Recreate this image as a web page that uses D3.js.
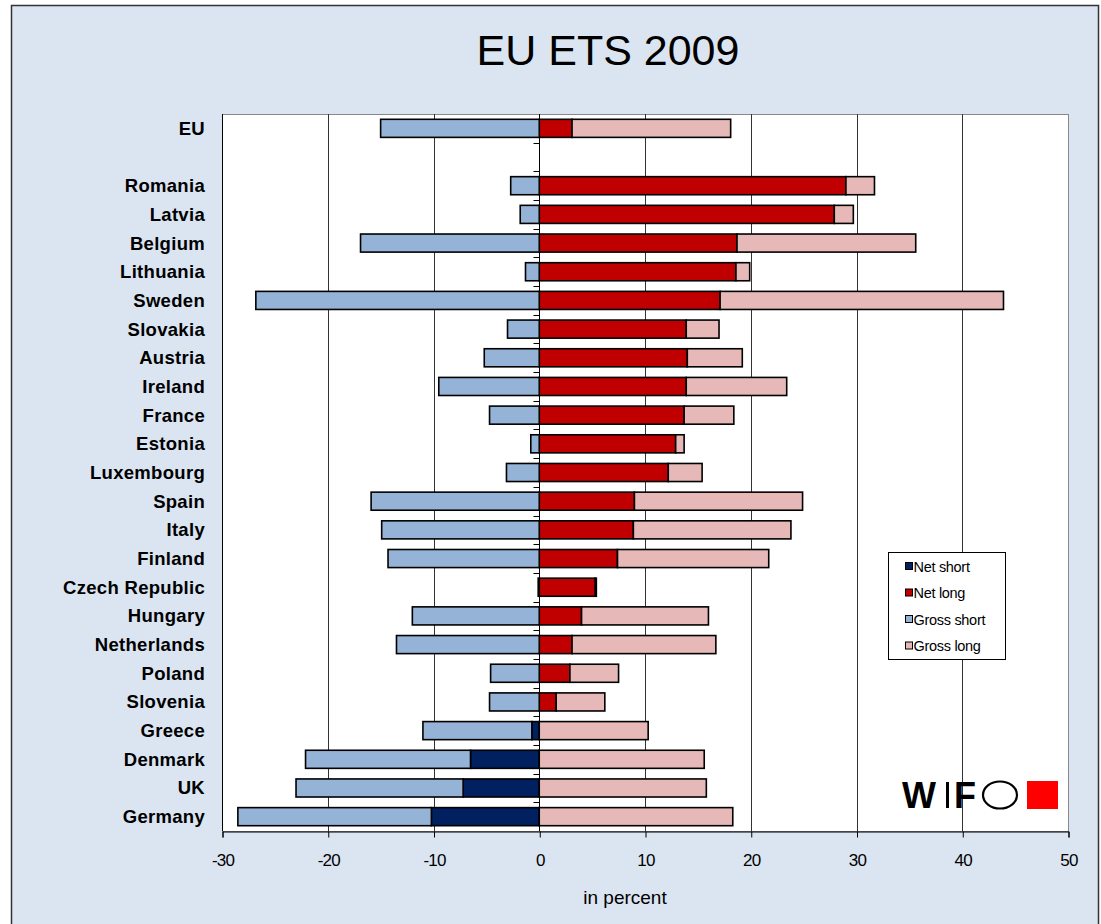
<!DOCTYPE html>
<html>
<head>
<meta charset="utf-8">
<script src="https://cdn.jsdelivr.net/npm/d3@7"></script>
<style>
  body { margin: 0; background: #ffffff; }
  svg { display: block; font-family: "Liberation Sans", Arial, sans-serif; }
</style>
</head>
<body>
<svg id="chart" width="1101" height="924"></svg>
<script>
// Allowance position per country, % of verified emissions (stacked segments)
const countries = ["EU", "", "Romania", "Latvia", "Belgium", "Lithuania", "Sweden", "Slovakia",
  "Austria", "Ireland", "France", "Estonia", "Luxembourg", "Spain", "Italy", "Finland",
  "Czech Republic", "Hungary", "Netherlands", "Poland", "Slovenia", "Greece", "Denmark", "UK", "Germany"];
const netShort   = [0, 0, 0, 0, 0, 0, 0, 0, 0, 0, 0, 0, 0, 0, 0, 0, 0, 0, 0, 0, 0, -0.7, -6.5, -7.2, -10.2];
const netLong    = [3.1, 0, 29.0, 27.9, 18.7, 18.6, 17.1, 13.9, 14.0, 13.9, 13.7, 12.9, 12.2, 9.0, 8.9, 7.4, 5.3, 4.0, 3.1, 2.9, 1.6, 0, 0, 0, 0];
const grossShort = [-15.0, 0, -2.7, -1.8, -16.9, -1.3, -26.8, -3.0, -5.2, -9.5, -4.7, -0.8, -3.1, -15.9, -14.9, -14.3, -0.1, -12.0, -13.5, -4.6, -4.7, -10.3, -15.6, -15.8, -18.3];
const grossLong  = [15.0, 0, 2.7, 1.8, 16.9, 1.3, 26.8, 3.1, 5.2, 9.5, 4.7, 0.8, 3.2, 15.9, 14.9, 14.3, 0.1, 12.0, 13.6, 4.6, 4.6, 10.3, 15.6, 15.8, 18.3];
const seriesNames = ["Net short", "Net long", "Gross short", "Gross long"];
const xTicks = [-30, -20, -10, 0, 10, 20, 30, 40, 50];

const colors = {
  "Net short": "#002060",
  "Net long": "#C00000",
  "Gross short": "#95B3D7",
  "Gross long": "#E6B9B8"
};

const rows = countries.map((c, i) => ({
  country: c,
  "Net short": netShort[i],
  "Net long": netLong[i],
  "Gross short": grossShort[i],
  "Gross long": grossLong[i]
}));

const svg = d3.select("#chart");

// outer frame
svg.append("rect")
  .attr("x", 11.5).attr("y", 5.5).attr("width", 1087).attr("height", 940)
  .attr("fill", "#DBE5F1").attr("stroke", "#333").attr("stroke-width", 1.5);

// title
svg.append("text")
  .attr("x", 608).attr("y", 65)
  .attr("text-anchor", "middle")
  .attr("font-size", 43)
  .attr("fill", "#000")
  .text("EU ETS 2009");

const plot = { left: 222, right: 1068, top: 114, bottom: 831 };

const x = d3.scaleLinear().domain([-30, 50]).range([plot.left, plot.right]);
const y = d3.scaleBand().domain(countries).range([plot.top, plot.bottom])
  .paddingInner(0.37).paddingOuter(0.185);

// plot background
svg.append("rect")
  .attr("x", plot.left + 0.5).attr("y", plot.top + 0.5)
  .attr("width", plot.right - plot.left).attr("height", plot.bottom - plot.top)
  .attr("fill", "#fff").attr("stroke", "#888").attr("stroke-width", 1);

// vertical gridlines
svg.append("g")
  .selectAll("line")
  .data(xTicks.filter(t => t !== 0 && t !== 50))
  .join("line")
  .attr("x1", d => Math.round(x(d)) + 0.5).attr("x2", d => Math.round(x(d)) + 0.5)
  .attr("y1", plot.top).attr("y2", plot.bottom)
  .attr("stroke", d => d === -30 ? "#000" : "#333").attr("stroke-width", 1);

// stacked bars
const stack = d3.stack().keys(seriesNames).offset(d3.stackOffsetDiverging);
const layers = stack(rows);

svg.append("g")
  .selectAll("g")
  .data(layers)
  .join("g")
  .attr("fill", d => colors[d.key])
  .selectAll("rect")
  .data(d => d.filter(s => s[1] - s[0] !== 0))
  .join("rect")
  .attr("x", d => x(Math.min(d[0], d[1])))
  .attr("width", d => Math.abs(x(d[1]) - x(d[0])))
  .attr("y", d => y(d.data.country))
  .attr("height", y.bandwidth())
  .attr("stroke", "#000")
  .attr("stroke-width", 1.6);

// category axis at zero with boundary ticks
const x0 = Math.round(x(0)) + 0.5;
svg.append("line")
  .attr("x1", x0).attr("x2", x0)
  .attr("y1", plot.top).attr("y2", plot.bottom)
  .attr("stroke", "#000").attr("stroke-width", 1);
const step = y.step();
svg.append("g")
  .selectAll("line")
  .data(d3.range(1, countries.length))
  .join("line")
  .attr("x1", x0 - 6).attr("x2", x0)
  .attr("y1", i => Math.round(plot.top + i * step) + 0.5)
  .attr("y2", i => Math.round(plot.top + i * step) + 0.5)
  .attr("stroke", "#000").attr("stroke-width", 1);

// category labels
svg.append("g")
  .selectAll("text")
  .data(countries)
  .join("text")
  .attr("x", 205)
  .attr("y", d => y(d) + y.bandwidth() / 2)
  .attr("dy", "0.35em")
  .attr("text-anchor", "end")
  .attr("font-size", 18.5)
  .attr("letter-spacing", 0.3)
  .attr("font-weight", "bold")
  .attr("fill", "#000")
  .text(d => d);

// value axis
const xAxis = d3.axisBottom(x).tickValues(xTicks).tickSize(6).tickPadding(16).tickFormat(d => String(d));
const gx = svg.append("g")
  .attr("transform", `translate(0.5,${plot.bottom + 0.5})`)
  .call(xAxis);
gx.select(".domain").attr("stroke", "#000").attr("stroke-width", 1);
gx.selectAll(".tick line").attr("stroke", "#000");
gx.selectAll(".tick text")
  .attr("font-size", 17)
  .attr("font-family", "'Liberation Sans', Arial, sans-serif")
  .attr("letter-spacing", -0.8)
  .attr("fill", "#000");

svg.append("text")
  .attr("x", 625).attr("y", 904)
  .attr("text-anchor", "middle")
  .attr("font-size", 19)
  .attr("fill", "#000")
  .text("in percent");

// legend
const legend = svg.append("g").attr("transform", "translate(888.5,552.5)");
legend.append("rect")
  .attr("width", 117).attr("height", 107)
  .attr("fill", "#fff").attr("stroke", "#000").attr("stroke-width", 1);
const item = legend.selectAll("g.item")
  .data(seriesNames)
  .join("g")
  .attr("class", "item")
  .attr("transform", (d, i) => `translate(0,${14 + i * 26.5})`);
item.append("rect")
  .attr("x", 17).attr("y", -4).attr("width", 7).attr("height", 7)
  .attr("fill", d => colors[d]).attr("stroke", "#000").attr("stroke-width", 1);
item.append("text")
  .attr("x", 25).attr("y", 0).attr("dy", "0.35em")
  .attr("font-size", 14.5)
  .attr("letter-spacing", -0.3)
  .attr("fill", "#000")
  .text(d => d);

// WIFO logo
const logo = svg.append("g");
logo.append("text").attr("x", 902).attr("y", 808)
  .attr("font-size", 36).attr("font-weight", "bold").attr("fill", "#000").text("W");
logo.append("rect").attr("x", 946).attr("y", 782).attr("width", 3).attr("height", 26).attr("fill", "#000");
logo.append("text").attr("x", 954).attr("y", 808)
  .attr("font-size", 36).attr("font-weight", "bold").attr("fill", "#000").text("F");
logo.append("ellipse").attr("cx", 1000).attr("cy", 795).attr("rx", 17).attr("ry", 13.5)
  .attr("fill", "none").attr("stroke", "#000").attr("stroke-width", 2.2);
logo.append("rect").attr("x", 1027).attr("y", 781).attr("width", 31).attr("height", 28).attr("fill", "#FF0000");
</script>
</body>
</html>
